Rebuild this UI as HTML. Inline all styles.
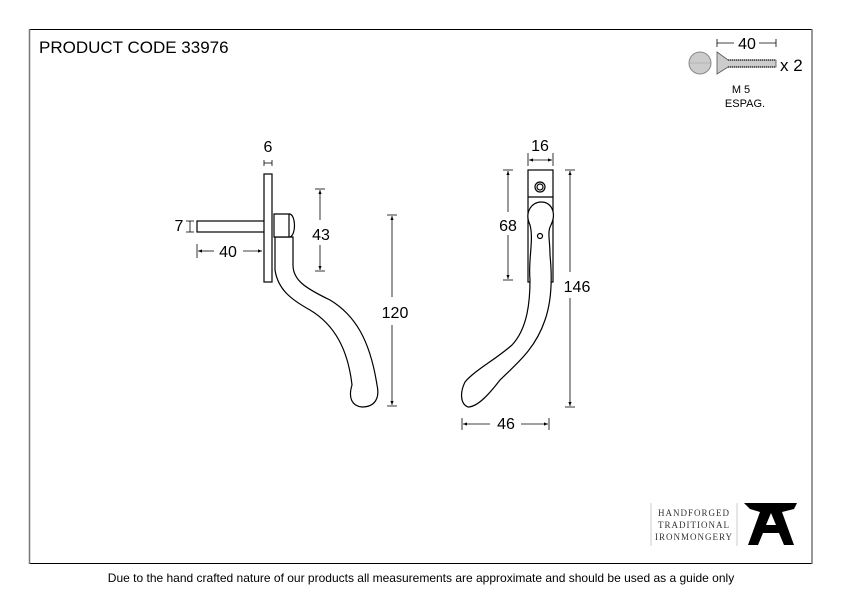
<!DOCTYPE html>
<html><head><meta charset="utf-8"><style>
html,body{margin:0;padding:0;background:#fff;}
svg{display:block;font-family:"Liberation Sans",sans-serif;}
</style></head><body>
<svg width="842" height="596" viewBox="0 0 842 596" xmlns="http://www.w3.org/2000/svg">
<defs>
<marker id="a" viewBox="0 0 10 10" refX="10" refY="5" markerWidth="5" markerHeight="5" orient="auto-start-reverse"><path d="M0,1 L10,5 L0,9 z" fill="#000"/></marker>
</defs>
<line x1="29" y1="29.5" x2="812" y2="29.5" stroke="#000" stroke-width="1"/>
<line x1="29" y1="563.5" x2="812" y2="563.5" stroke="#000" stroke-width="1"/>
<line x1="29.5" y1="29" x2="29.5" y2="564" stroke="#777" stroke-width="1.5"/>
<line x1="812" y1="29" x2="812" y2="564" stroke="#777" stroke-width="1.5"/>
<text x="39" y="53" font-size="17">PRODUCT CODE 33976</text>

<!-- left handle -->
<g fill="#fff" stroke="#000" stroke-width="1.2">
<rect x="197" y="221" width="68" height="11"/>
<path d="M275,237 L275,270 C278,290 292,300 310,310 C335,325 348,350 352,385 C348,398 352,406 362,407 C375,407 380,398 377,385 C370,340 355,315 330,300 C305,288 293,280 293,265 L293,237 Z"/>
<path d="M274,214 L290,214 C296,216 296,235 290,237 L274,237 Z"/>
<line x1="289" y1="214" x2="289" y2="237"/>
<rect x="264" y="174" width="8" height="108"/>
</g>
<g stroke="#000" stroke-width="0.8" fill="none">
<line x1="264" y1="163" x2="272" y2="163"/><line x1="264" y1="160" x2="264" y2="166"/><line x1="272" y1="160" x2="272" y2="166"/>
<line x1="190" y1="221" x2="190" y2="232"/><line x1="186" y1="221" x2="194" y2="221"/><line x1="186" y1="232" x2="194" y2="232"/>
<line x1="197" y1="244" x2="197" y2="258"/>
<line x1="198" y1="251" x2="214" y2="251" marker-start="url(#a)"/><line x1="243" y1="251" x2="262" y2="251" marker-end="url(#a)"/>
<line x1="315" y1="189" x2="325" y2="189"/><line x1="315" y1="271" x2="325" y2="271"/>
<line x1="320" y1="190" x2="320" y2="220" marker-start="url(#a)"/><line x1="320" y1="245" x2="320" y2="270" marker-end="url(#a)"/>
<line x1="387" y1="215" x2="397" y2="215"/><line x1="387" y1="406" x2="397" y2="406"/>
<line x1="392" y1="216" x2="392" y2="297" marker-start="url(#a)"/><line x1="392" y1="325" x2="392" y2="405" marker-end="url(#a)"/>
</g>
<g font-size="16" text-anchor="middle">
<text x="268" y="152">6</text>
<text x="179" y="231">7</text>
<text x="228" y="257">40</text>
<text x="321" y="240">43</text>
<text x="395" y="318">120</text>
</g>

<!-- right handle -->
<g fill="#fff" stroke="#000" stroke-width="1.2">
<rect x="528" y="170" width="25" height="112"/>
<line x1="528" y1="197" x2="553" y2="197"/>
<circle cx="540" cy="187" r="5"/><circle cx="540" cy="187" r="3"/>
<path d="M530,225 C524,212 532,202 541,202 C551,202 557,212 551,225 C547,232 550,240 550,255 C552,275 552,300 545,320 C535,350 515,365 500,380 C490,393 478,407 468,407 C460,404 460,392 465,382 C475,370 495,360 512,345 C528,328 530,300 530,280 C528,260 534,240 530,225 Z"/>
<circle cx="540" cy="236" r="2.5"/>
</g>
<g stroke="#000" stroke-width="0.8" fill="none">
<line x1="528" y1="153" x2="528" y2="166"/><line x1="553" y1="153" x2="553" y2="166"/>
<line x1="529" y1="160" x2="552" y2="160" marker-start="url(#a)" marker-end="url(#a)"/>
<line x1="503" y1="170" x2="513" y2="170"/><line x1="503" y1="280" x2="513" y2="280"/>
<line x1="508" y1="171" x2="508" y2="212" marker-start="url(#a)"/><line x1="508" y1="235" x2="508" y2="279" marker-end="url(#a)"/>
<line x1="565" y1="170" x2="575" y2="170"/><line x1="565" y1="407" x2="575" y2="407"/>
<line x1="570" y1="171" x2="570" y2="272" marker-start="url(#a)"/><line x1="570" y1="298" x2="570" y2="406" marker-end="url(#a)"/>
<line x1="462" y1="418" x2="462" y2="430"/><line x1="549" y1="418" x2="549" y2="430"/>
<line x1="463" y1="424" x2="490" y2="424" marker-start="url(#a)"/><line x1="521" y1="424" x2="548" y2="424" marker-end="url(#a)"/>
</g>
<g font-size="16" text-anchor="middle">
<text x="540" y="151">16</text>
<text x="508" y="231">68</text>
<text x="577" y="292">146</text>
<text x="506" y="429">46</text>
</g>

<!-- screw -->
<circle cx="700" cy="63" r="11" fill="#ccc" stroke="#888" stroke-width="1"/>
<line x1="689" y1="63" x2="711" y2="63" stroke="#999" stroke-width="0.6"/>
<path d="M717,52 L728,60 L776,60 L776,67 L728,67 L717,74 Z" fill="#ccc" stroke="#555" stroke-width="0.8"/>
<path d="M728,60 L776,60 M728,67 L776,67" stroke="#333" stroke-width="1.5" stroke-dasharray="1,1"/>
<g stroke="#000" stroke-width="0.8"><line x1="717" y1="43" x2="734" y2="43"/><line x1="759" y1="43" x2="776" y2="43"/><line x1="717" y1="39" x2="717" y2="47"/><line x1="776" y1="39" x2="776" y2="47"/></g>
<text x="747" y="49" font-size="16" text-anchor="middle">40</text>
<text x="780" y="71" font-size="17">x 2</text>
<text x="741" y="93" font-size="11" text-anchor="middle">M 5</text>
<text x="745" y="107" font-size="11" text-anchor="middle">ESPAG.</text>

<!-- logo -->
<line x1="651" y1="503" x2="651" y2="546" stroke="#ccc"/>
<line x1="737" y1="503" x2="737" y2="546" stroke="#ccc"/>
<g font-family="Liberation Serif,serif" font-size="9" text-anchor="middle" fill="#333" letter-spacing="1">
<text x="694" y="516">HANDFORGED</text>
<text x="694" y="528">TRADITIONAL</text>
<text x="694" y="540">IRONMONGERY</text>
</g>
<path fill-rule="evenodd" d="M744,503 L797,503 L794,509 L782,512 L794,545 L784,545 L779,533 L763,533 L758,545 L748,545 L760,512 L750,509 Z M766,525 L776,525 L771,513 Z" fill="#000"/>

<text x="421" y="582" font-size="12" text-anchor="middle">Due to the hand crafted nature of our products all measurements are approximate and should be used as a guide only</text>
</svg>
</body></html>
